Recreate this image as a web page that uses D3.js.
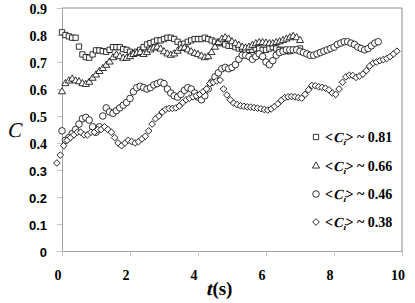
<!DOCTYPE html>
<html>
<head>
<meta charset="utf-8">
<script src="https://cdn.jsdelivr.net/npm/d3@7"></script>
<style>
  html, body { margin: 0; background: #fff; }
  svg { display: block; }
  .serif { font-family: "Liberation Serif", "Times New Roman", serif; }
  .sans { font-family: "Liberation Sans", Arial, sans-serif; }
</style>
</head>
<body>
<div id="chart"></div>
<script>
// sampling of the recorded series (s)
const STEP = 0.1;
const startSq = 0, startTri = 0, startCir = 0, startDia = -0.15;

const squares = [0.81, 0.80, 0.795, 0.79, 0.79, 0.757, 0.728, 0.718, 0.716, 0.728,
  0.743, 0.743, 0.74, 0.738, 0.745, 0.755, 0.755, 0.755, 0.748, 0.745,
  0.738, 0.731, 0.738, 0.745, 0.755, 0.765, 0.77, 0.775, 0.78, 0.78,
  0.785, 0.79, 0.79, 0.785, 0.775, 0.765, 0.768, 0.775, 0.78, 0.785,
  0.785, 0.785, 0.79, 0.785, 0.78, 0.775, 0.77, 0.77, 0.765, 0.76,
  0.76, 0.755, 0.75, 0.75, 0.745, 0.745, 0.745, 0.75, 0.75, 0.745,
  0.745, 0.75, 0.755, 0.75, 0.745, 0.745, 0.74, 0.74, 0.745, 0.745, 0.75];

const triangles = [0.59, 0.62, 0.63, 0.637, 0.63, 0.627, 0.62, 0.617, 0.625, 0.64,
  0.652, 0.665, 0.676, 0.688, 0.70, 0.716, 0.726, 0.72, 0.714, 0.714,
  0.72, 0.728, 0.732, 0.735, 0.728, 0.735, 0.745, 0.752, 0.755, 0.748,
  0.738, 0.73, 0.725, 0.73, 0.74, 0.75, 0.752, 0.745, 0.738, 0.732,
  0.728, 0.722, 0.716, 0.72, 0.735, 0.755, 0.772, 0.785, 0.79, 0.785,
  0.775, 0.768, 0.762, 0.755, 0.752, 0.755, 0.762, 0.768, 0.772, 0.772,
  0.77, 0.768, 0.768, 0.772, 0.775, 0.78, 0.785, 0.79, 0.795, 0.79, 0.78];

const circles = [0.445, 0.41, 0.42, 0.435, 0.45, 0.47, 0.49, 0.495, 0.485, 0.46,
  0.44, 0.46, 0.50, 0.53, 0.515, 0.51, 0.52, 0.53, 0.54, 0.55,
  0.565, 0.59, 0.605, 0.61, 0.605, 0.60, 0.605, 0.615, 0.62, 0.625,
  0.62, 0.60, 0.585, 0.575, 0.57, 0.58, 0.595, 0.605, 0.60, 0.585,
  0.57, 0.56, 0.575, 0.60, 0.625, 0.645, 0.66, 0.675, 0.68, 0.675,
  0.68, 0.69, 0.71, 0.725, 0.725, 0.72, 0.71, 0.72, 0.73, 0.72,
  0.70, 0.69, 0.705, 0.725, 0.735, 0.74, 0.745, 0.745, 0.745, 0.745,
  0.74, 0.735, 0.73, 0.725, 0.725, 0.73, 0.735, 0.74, 0.745, 0.75,
  0.755, 0.765, 0.77, 0.775, 0.775, 0.77, 0.765, 0.755, 0.75, 0.745,
  0.75, 0.76, 0.77, 0.775];

const diamonds = [0.326, 0.355, 0.39, 0.41, 0.42, 0.43, 0.44, 0.44, 0.43, 0.43,
  0.44, 0.44, 0.45, 0.45, 0.46, 0.45, 0.44, 0.42, 0.40, 0.39,
  0.40, 0.41, 0.405, 0.40, 0.405, 0.415, 0.425, 0.445, 0.47, 0.49,
  0.50, 0.515, 0.525, 0.528, 0.528, 0.53, 0.537, 0.55, 0.56, 0.566,
  0.571, 0.575, 0.58, 0.59, 0.60, 0.62, 0.625, 0.63, 0.633, 0.60,
  0.578, 0.56, 0.548, 0.542, 0.538, 0.536, 0.534, 0.533, 0.531, 0.529,
  0.527, 0.524, 0.522, 0.526, 0.535, 0.545, 0.558, 0.568, 0.571, 0.572,
  0.571, 0.568, 0.566, 0.58, 0.597, 0.613, 0.612, 0.608, 0.606, 0.603,
  0.597, 0.585, 0.58, 0.60, 0.625, 0.645, 0.651, 0.65, 0.643, 0.648,
  0.655, 0.668, 0.685, 0.696, 0.70, 0.705, 0.709, 0.713, 0.72, 0.73, 0.74];

const legendValues = ["0.81", "0.66", "0.46", "0.38"];
const xTicks = [0, 2, 4, 6, 8, 10];
const yTicks = [0, 0.1, 0.2, 0.3, 0.4, 0.5, 0.6, 0.7, 0.8, 0.9];

const W = 415, H = 303;
const M = { top: 8, right: 13, bottom: 52, left: 62 };
const SKEW = -13; // no serif italic face installed, so slant the upright one

const svg = d3.select("#chart").append("svg").attr("width", W).attr("height", H);

const x = d3.scaleLinear().domain([0, 10]).range([M.left, W - M.right]);
const y = d3.scaleLinear().domain([0, 0.9]).range([H - M.bottom, M.top]);

// plot frame (top + right)
svg.append("path")
  .attr("d", `M${x(0)},${y(0.9)}H${x(10)}V${y(0)}`)
  .attr("fill", "none").attr("stroke", "#8a8a8a").attr("stroke-width", 1);

// axes
const yAxis = svg.append("g").attr("transform", `translate(${x(0)},0)`)
  .call(d3.axisLeft(y).tickValues(yTicks).tickSize(5).tickFormat(""));
const xAxis = svg.append("g").attr("transform", `translate(0,${y(0)})`)
  .call(d3.axisBottom(x).tickValues(xTicks).tickSize(5).tickFormat(""));
[yAxis, xAxis].forEach(a => {
  a.select(".domain").attr("stroke", "#a0a0a0");
  a.selectAll(".tick line").attr("stroke", "#c4c4c4");
});

svg.append("g").selectAll("text").data(yTicks).join("text")
  .attr("class", d => d < 0.35 ? "sans" : "serif")
  .attr("x", 47).attr("y", d => y(d) + 5.5)
  .attr("text-anchor", "end")
  .style("font-weight", "bold").style("font-size", d => d < 0.35 ? "13px" : "14px")
  .text(d => d === 0 ? "0" : d.toFixed(1));

svg.append("g").selectAll("text").data(xTicks).join("text")
  .attr("class", "serif")
  .attr("x", d => x(d) - 4).attr("y", 280)
  .attr("text-anchor", "middle")
  .style("font-weight", "bold").style("font-size", "14px")
  .text(d => d);

// runs of text with some slanted pieces; returns end x
function runText(g, x0, base, parts, size, weight) {
  let cx = x0;
  parts.forEach(p => {
    const fs = p.size || size;
    const dy = p.dy || 0;
    const t = g.append("text").attr("class", "serif")
      .style("font-size", fs + "px").style("font-weight", weight)
      .text(p.text);
    if (p.italic) {
      t.attr("transform", `translate(${cx},${base + dy}) skewX(${SKEW})`);
    } else {
      t.attr("x", cx).attr("y", base + dy);
    }
    cx += t.node().getComputedTextLength() + (p.gap || 0);
  });
  return cx;
}

// x axis title, centred
const xt = svg.append("g");
const xEnd = runText(xt, 0, 295, [{ text: "t", italic: true, gap: 0.5 }, { text: "(s)" }], 19, "bold");
xt.attr("transform", `translate(${219 - xEnd / 2},0)`);

// y axis title
svg.append("text").attr("class", "serif")
  .attr("transform", `translate(7,137) skewX(${SKEW})`)
  .style("font-size", "21px")
  .text("C");

// markers
const sym = {
  square: d3.symbol().type(d3.symbolSquare).size(28),
  triangle: d3.symbol().type(d3.symbolTriangle).size(22),
  circle: d3.symbol().type(d3.symbolCircle).size(34),
  diamond: d3.symbol().type(d3.symbolSquare).size(22)
};

const series = [
  { vals: squares, t0: startSq, shape: "square", rot: 0 },
  { vals: triangles, t0: startTri, shape: "triangle", rot: 0 },
  { vals: circles, t0: startCir, shape: "circle", rot: 0 },
  { vals: diamonds, t0: startDia, shape: "diamond", rot: 45 }
];

series.forEach(s => {
  svg.append("g").selectAll("path")
    .data(s.vals.map((v, i) => ({ t: s.t0 + i * STEP, v })))
    .join("path")
    .attr("d", sym[s.shape]())
    .attr("transform", d => `translate(${x(d.t)},${y(d.v)}) rotate(${s.rot})`)
    .attr("fill", "#fff").attr("stroke", "#000").attr("stroke-width", 0.8);
});

// legend
const LEG_Y = [137, 166, 194, 222];
const leg = svg.append("g");
series.forEach((s, i) => {
  leg.append("path")
    .attr("d", sym[s.shape]())
    .attr("transform", `translate(316,${LEG_Y[i]}) rotate(${s.rot})`)
    .attr("fill", "#fff").attr("stroke", "#000").attr("stroke-width", 0.8);
  runText(leg, 325, LEG_Y[i] + 5, [
    { text: "<" },
    { text: "C", italic: true },
    { text: "i", italic: true, size: 9, dy: 3 },
    { text: ">", gap: 3.5 },
    { text: "~", gap: 3.5 },
    { text: legendValues[i] }
  ], 14, "bold");
});
</script>
</body>
</html>
